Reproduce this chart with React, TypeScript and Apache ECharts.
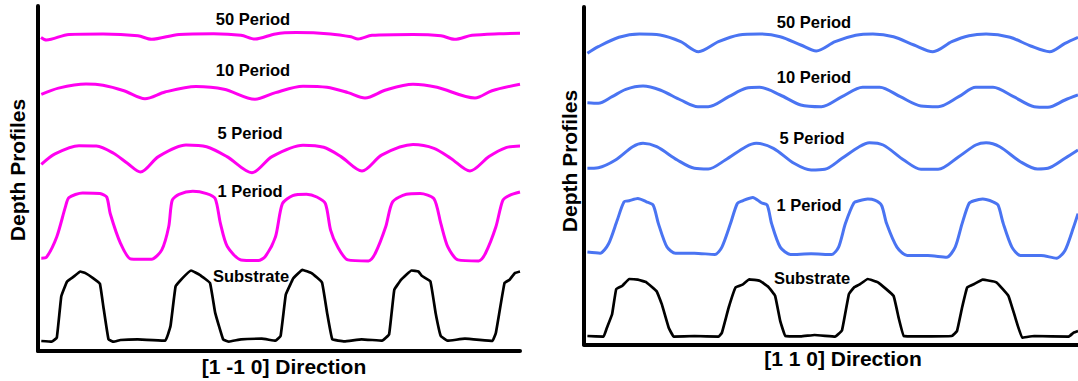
import React, { useEffect, useRef } from "react";
import * as echarts from "echarts";

// ---------- texts ----------
const xTitleLeft = "[1 -1 0] Direction";
const xTitleRight = "[1 1 0] Direction";
const yTitle = "Depth Profiles";
const profileNames = ["50 Period", "10 Period", "5 Period", "1 Period", "Substrate"];

// ---------- data: [position along direction, height] (arbitrary units) ----------
// Left panel: [1 -1 0]
const left50 = [[3,313.6],[8.5,311],[31,316.6],[65,317.1],[100,315.2],[113.5,311.7],[141,316.6],[175.5,317.3],[203,315.7],[217,312],[237.5,317.1],[258,318.4],[292.5,317.1],[313,314.2],[320,312],[334,315.7],[375,316.6],[403,315.2],[416.5,311.7],[434,315.7],[461,317.3],[482,317.7]];
const left10 = [[3.3,256.6],[20.5,262.9],[48,267],[65,265.8],[86,260.3],[107,252.3],[127,259],[158,264.4],[186,261.7],[217,251.7],[237.5,258.4],[265,264.8],[289,263.7],[310,258.4],[327,253],[347.7,261],[375,266.8],[399,263.7],[437,253],[454,260.3],[482,266.8]];
const left5 = [[3.3,186.6],[17,197.1],[41,205.3],[58.4,205],[75.6,197.7],[89.4,187.7],[102.5,179],[120.4,194.4],[148,206],[168.6,204.3],[189,194.4],[214,178.3],[234,194.4],[265,205.8],[285.7,203.7],[303,194.4],[324,180],[344,196.1],[375,206.4],[396,202.7],[413,192.6],[432,180],[451,194.4],[468,203.4],[482,205]];
const left1 = [[3.3,92.8],[8.5,93.8],[18.8,114.3],[27.4,144.1],[30.9,153.4],[44.6,158],[61.9,157.4],[68.7,154],[72.2,137.5],[82.5,107.7],[92.9,92.1],[113.5,91.8],[123.8,101.1],[130.7,124.2],[134.2,150.7],[141,156.7],[154.8,159.7],[168.6,157.4],[177.2,152.4],[182.4,127.6],[189.3,104.4],[203,91.1],[220.3,90.5],[227.2,94.4],[237.5,114.3],[244.4,147.4],[254.7,155.4],[268.5,156.7],[278.8,154],[287.4,147.4],[292.6,120.9],[299.5,104.4],[309.8,91.1],[330.5,90.1],[337.3,97.8],[347.7,124.2],[354.6,149.1],[368.3,156.7],[382.1,157.4],[395.9,152.4],[402.8,127.6],[409.7,104.4],[420,91.1],[440.7,90.1],[447.5,97.8],[457.9,124.2],[464.8,150.7],[471.6,155.7],[482,159]];
const leftSub = [[3.3,10],[13.7,9.3],[18.8,13.3],[23.3,54.7],[29.1,69.6],[36,74.6],[42.2,79.5],[47.4,77.9],[55,72.9],[61.9,67.3],[65.3,44.8],[70.5,11.7],[75.6,9.3],[82.5,11],[99.7,11.7],[127.3,10.3],[132.5,24.9],[137.6,64.6],[144.5,72.9],[153.1,80.5],[161.7,76.2],[172,68],[177.2,38.1],[185.1,11.7],[191,9.3],[203,11.7],[223.7,12.3],[237.5,10.3],[242.6,15],[247.8,56.4],[253,68],[255.4,72.9],[264.3,81.2],[273.6,77.9],[284,68.6],[289.1,38.1],[294.3,11.7],[306.4,9.7],[323.6,11.7],[344.2,10.3],[351.1,16.6],[356.3,61.3],[363.2,71.3],[373.5,80.5],[380.4,79.5],[383.8,75.2],[392.4,69.6],[397.6,38.1],[402.8,15],[409.7,10.3],[426.9,12.3],[454.4,10],[457.9,18.3],[466.5,68],[471.6,71.3],[476.8,77.9],[482,79.5]];

// Right panel: [1 1 0]
const right50 = [[3.4,291.2],[14.3,297.8],[34.9,307.2],[55.5,310.5],[76.1,309.5],[96.7,302.8],[114.5,292.8],[134.5,302.8],[155,309.5],[175.6,310.5],[196.2,307.8],[216.8,299.5],[232.3,293.5],[251.1,302.8],[271.7,309.2],[288.9,310.5],[309.5,307.8],[330,299.5],[348.9,292.8],[367.8,302.8],[385,308.8],[402.1,310.5],[426.1,307.2],[446.7,298.5],[465.6,292.8],[481,301.2],[494,307.2]];
const right10 = [[3.4,241.8],[14.3,241.2],[28.1,247.8],[41.8,255.2],[59,258.5],[76.1,254.5],[96.7,244.5],[113.9,237.8],[124.2,237.8],[144.7,247.8],[161.9,256.2],[175.6,257.2],[196.2,249.5],[216.8,239.5],[237.4,237.8],[258,247.8],[278.6,257.2],[295.7,257.2],[316.3,247.8],[336.9,238.5],[354.1,237.8],[374.7,247.8],[391.8,257.2],[409,257.2],[429.6,247.8],[450.2,237.8],[463.9,237.2],[481,244.5],[494,249.5]];
const right5 = [[3.4,176.2],[14.3,176.8],[31.5,184.5],[48.7,197.8],[59,201.2],[72.7,197.8],[93.3,184.5],[110.4,176.2],[124.2,175.5],[141.3,184.5],[161.9,197.8],[172.2,201.2],[189.4,196.2],[210,181.2],[227.1,174.5],[240.8,175.2],[258,186.2],[275.2,197.8],[285.4,201.8],[299.2,199.5],[319.8,184.5],[337,175.2],[354.1,175.2],[374.7,187.8],[391.8,199.5],[402.1,201.8],[415.8,197.8],[436.4,182.8],[453.6,175.5],[463.9,176.2],[481,186.2],[494,194.5]];
const right1 = [[3.4,92.4],[16.1,91.3],[24.6,100.7],[33.2,124.2],[40.1,142.7],[45.2,143.7],[53.8,146],[62.4,142.7],[69.2,139.3],[74.4,120.9],[83,97.4],[91.5,91.3],[110.4,91.3],[131,90],[137.9,97.4],[146.5,120.9],[153.3,141],[158.5,143.7],[168.8,147.1],[177.3,141.7],[183.2,139.3],[187.6,120.9],[196.2,97.4],[206.5,90],[227.1,90.7],[247.7,90],[254.6,97.4],[261.4,120.9],[270,141.7],[275.2,143.7],[283.7,145.4],[290.6,144.4],[297.5,139.3],[302.6,120.9],[312.9,97.4],[323.2,89],[343.8,89],[362.7,87.3],[371.2,97.4],[378.1,120.9],[385,141],[390.1,143.7],[398.7,145.4],[409,142.7],[414.1,139.3],[419.3,120.9],[427.9,97.4],[436.4,89],[457,89],[472.5,86.3],[481,94],[489.6,117.5],[494,130.9]];
const rightSub = [[3.4,8.5],[19.5,7.8],[22.9,16.8],[28.1,30.3],[32.2,55.4],[38.4,58.8],[45.2,65.5],[53.8,64.8],[62.4,62.2],[72.7,53.1],[77.8,40.3],[84.7,16.8],[89.8,7.8],[110.4,8.5],[134.5,7.8],[137.9,11.8],[144.7,37],[151.6,57.1],[158.5,59.8],[165.3,65.2],[175.6,63.8],[184.2,57.8],[191.1,48.7],[196.2,23.6],[201.4,8.5],[216.8,8.1],[230.5,9.5],[251.1,7.8],[258,14.2],[264.9,50.4],[270,57.1],[275.2,59.8],[283.7,65.5],[294,62.2],[309.5,48.7],[314.6,26.9],[319.8,8.5],[333.5,8.1],[367.8,8.5],[373,13.5],[378.1,37],[383.2,57.1],[390.1,60.5],[398.7,64.8],[412.4,62.2],[424.4,48.7],[431.3,26.9],[438.2,6.8],[450.2,8.5],[484.5,7.8],[489.6,11.8],[494,13.5]];

const leftSeries = [left50, left10, left5, left1, leftSub];
const rightSeries = [right50, right10, right5, right1, rightSub];

// ---------- layout / style ----------
const MAGENTA = "#ff00f0";
const BLUE = "#4a74f2";
const BLACK = "#000000";
const leftColors = [MAGENTA, MAGENTA, MAGENTA, MAGENTA, BLACK];
const rightColors = [BLUE, BLUE, BLUE, BLUE, BLACK];
const smoothness = [0.3, 0.3, 0.3, 0.25, 0.08];
const leftLabelPos = [[253, 19], [253, 70], [250, 133], [250, 191], [251, 276]];
const rightLabelPos = [[814, 21.5], [814, 77], [812, 137.5], [809, 205], [812, 278]];

const FONT = "'Liberation Sans', Arial, Helvetica, sans-serif";

export default function App() {
  const ref = useRef<HTMLDivElement>(null);
  useEffect(() => {
    if (!ref.current) return;
    const chart = echarts.init(ref.current, undefined, { renderer: "svg" });

    const axisLine = (w: number) => ({ show: true, onZero: false, lineStyle: { color: "#000", width: w } });
    const axisBase = (idx: number, max: number) => ({
      type: "value" as const,
      gridIndex: idx,
      min: 0,
      max,
      axisLine: axisLine(4),
      axisTick: { show: false },
      axisLabel: { show: false },
      splitLine: { show: false },
    });

    const series: any[] = [];
    leftSeries.forEach((d, i) =>
      series.push({
        type: "line",
        name: profileNames[i] + " [1 -1 0]",
        xAxisIndex: 0,
        yAxisIndex: 0,
        data: d,
        showSymbol: false,
        smooth: smoothness[i],
        clip: false,
        lineStyle: { color: leftColors[i], width: i === 4 ? 2.7 : 3 },
      })
    );
    rightSeries.forEach((d, i) =>
      series.push({
        type: "line",
        name: profileNames[i] + " [1 1 0]",
        xAxisIndex: 1,
        yAxisIndex: 1,
        data: d,
        showSymbol: false,
        smooth: smoothness[i],
        clip: false,
        lineStyle: { color: rightColors[i], width: i === 4 ? 2.7 : 3 },
      })
    );

    const labelText = (txt: string, x: number, y: number, size: number, rot = 0) => ({
      type: "text",
      x,
      y,
      rotation: rot,
      style: {
        text: txt,
        fill: "#000",
        font: `bold ${size}px ${FONT}`,
        align: "center",
        verticalAlign: "middle",
      },
    });

    const graphic: any[] = [];
    profileNames.forEach((n, i) => {
      graphic.push(labelText(n, leftLabelPos[i][0], leftLabelPos[i][1], 16.5));
      graphic.push(labelText(n, rightLabelPos[i][0], rightLabelPos[i][1], 16.5));
    });
    graphic.push(labelText(xTitleLeft, 284, 366, 21));
    graphic.push(labelText(xTitleRight, 843, 358, 21));
    graphic.push(labelText(yTitle, 17.5, 170, 21, Math.PI / 2));
    graphic.push(labelText(yTitle, 569, 161, 21, Math.PI / 2));

    chart.setOption({
      animation: false,
      backgroundColor: "#ffffff",
      grid: [
        { left: 38, top: 6, width: 482, height: 345 },
        { left: 584, top: 7, width: 494, height: 337.5 },
      ],
      xAxis: [axisBase(0, 482), axisBase(1, 494)],
      yAxis: [axisBase(0, 345), axisBase(1, 337.5)],
      series,
      graphic,
    });
    return () => chart.dispose();
  }, []);
  return (
    <div
      ref={ref}
      style={{ position: "absolute", left: 0, top: 0, width: 1078, height: 381, background: "#fff" }}
    />
  );
}
